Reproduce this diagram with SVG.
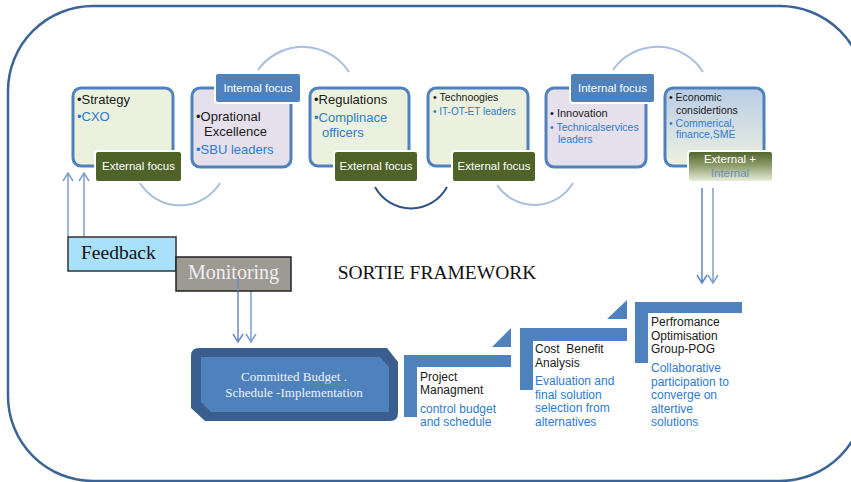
<svg xmlns="http://www.w3.org/2000/svg" width="851" height="482" viewBox="0 0 851 482">
  <defs>
    <linearGradient id="econFill" x1="0" y1="0" x2="0" y2="1">
      <stop offset="0" stop-color="#b9cce6"/>
      <stop offset="1" stop-color="#edf2e0"/>
    </linearGradient>
    <linearGradient id="mixFill" x1="0" y1="0" x2="0" y2="1">
      <stop offset="0" stop-color="#4f6228"/>
      <stop offset="0.45" stop-color="#8a9a68"/>
      <stop offset="1" stop-color="#eef3e2"/>
    </linearGradient>
    <style>
      .frame { fill: #ffffff; stroke: #3b6497; stroke-width: 2.5; }
      .box { stroke: #4f81bd; stroke-width: 3; }
      .green { fill: #ebf1de; }
      .lav { fill: #e5e0ec; }
      .ext { fill: #4f6228; stroke: #ffffff; stroke-width: 2; }
      .int { fill: #4f81bd; stroke: #ffffff; stroke-width: 2; }
      .lbl { font-family: "Liberation Sans", Arial, sans-serif; font-size: 11.5px; fill: #ffffff; text-anchor: middle; }
      .t { font-family: "Liberation Sans", Arial, sans-serif; fill: #1a1a1a; }
      .b { fill: #2e7bcf; }
      .serif { font-family: "Liberation Serif", "Times New Roman", serif; }
      .arc { fill: none; stroke: #a9bfdc; stroke-width: 2; }
      .arrow { fill: none; stroke: #7f9fd0; stroke-width: 1.5; }
      .step { fill: #4f81bd; }
    </style>
  </defs>

  <!-- outer rounded frame -->
  <rect class="frame" x="8" y="6" width="857" height="475" rx="85" ry="85"/>

  <!-- connectors -->
  <g id="connectors">
    <path class="arc" d="M140,183 A47,47 0 0 0 220,183"/>
    <path class="arc" d="M258,70 A55,55 0 0 1 349,72"/>
    <path class="arc" d="M375,187 A41,41 0 0 0 447,187" style="stroke:#2f5486"/>
    <path class="arc" d="M497,185 A45,45 0 0 0 573,183"/>
    <path class="arc" d="M613,70 A54,54 0 0 1 703,72"/>
    <!-- feedback arrows up to strategy -->
    <path class="arrow" d="M68,237 V173 M63,181 L68,173 L73,181"/>
    <path class="arrow" d="M84,237 V173 M79,181 L84,173 L89,181"/>
    <!-- monitoring arrows down to budget block -->
    <path class="arrow" d="M238,276 V342 M233,334 L238,342 L243,334" style="stroke:#6d8cc0"/>
    <path class="arrow" d="M251,291 V342 M246,334 L251,342 L256,334"/>
    <!-- economic arrows down to optimisation -->
    <path class="arrow" d="M702,188 V283 M697,275 L702,283 L707,275" style="stroke:#5f86c4"/>
    <path class="arrow" d="M713,188 V283 M708,275 L713,283 L718,275"/>
  </g>

  <!-- top row -->
  <g id="strategy">
    <rect class="box green" x="73" y="88" width="100" height="78" rx="8"/>
    <text class="t" x="77" y="104" font-size="13">•Strategy</text>
    <text class="t b" x="77" y="121" font-size="13">•CXO</text>
    <rect class="ext" x="95" y="151" width="87" height="31" rx="3"/>
    <text class="lbl" x="138.5" y="170">External focus</text>
  </g>

  <g id="operational">
    <rect class="box lav" x="192" y="88" width="99" height="79" rx="8"/>
    <text class="t" x="196" y="121" font-size="13">•Oprational</text>
    <text class="t" x="204" y="136" font-size="13">Excellence</text>
    <text class="t b" x="196" y="154" font-size="13">•SBU leaders</text>
    <rect class="int" x="215" y="73" width="86" height="30" rx="3"/>
    <text class="lbl" x="258" y="92">Internal focus</text>
  </g>

  <g id="regulations">
    <rect class="box green" x="310" y="88" width="99" height="78" rx="8"/>
    <text class="t" x="314" y="104" font-size="13">•Regulations</text>
    <text class="t b" x="314" y="122" font-size="13">•Complinace</text>
    <text class="t b" x="322" y="137" font-size="13">officers</text>
    <rect class="ext" x="334" y="151" width="84" height="31" rx="3"/>
    <text class="lbl" x="376" y="170">External focus</text>
  </g>

  <g id="technologies">
    <rect class="box green" x="428" y="88" width="100" height="78" rx="8"/>
    <text class="t" x="433" y="101" font-size="10.5">• Technoogies</text>
    <text class="t b" x="433" y="115" font-size="10">• IT-OT-ET leaders</text>
    <rect class="ext" x="452" y="151" width="84" height="31" rx="3"/>
    <text class="lbl" x="494" y="170">External focus</text>
  </g>

  <g id="innovation">
    <rect class="box lav" x="546" y="88" width="100" height="79" rx="8"/>
    <text class="t" x="550" y="117" font-size="11">• Innovation</text>
    <text class="t b" x="550" y="131" font-size="10.5">• Technicalservices</text>
    <text class="t b" x="558" y="143" font-size="10.5">leaders</text>
    <rect class="int" x="570" y="73" width="85" height="30" rx="3"/>
    <text class="lbl" x="612.5" y="92">Internal focus</text>
  </g>

  <g id="economic">
    <rect class="box" x="665" y="88" width="99" height="78" rx="8" fill="url(#econFill)"/>
    <text class="t" x="669" y="101" font-size="10.5">• Economic</text>
    <text class="t" x="676" y="114" font-size="10.5">considertions</text>
    <text class="t b" x="669" y="127" font-size="10.5">• Commerical,</text>
    <text class="t b" x="676" y="138" font-size="10.5">finance,SME</text>
    <rect x="688" y="151" width="85" height="31" rx="3" fill="url(#mixFill)" stroke="#ffffff" stroke-width="2"/>
    <text class="lbl" x="730" y="163">External +</text>
    <text class="lbl" x="730" y="177" style="fill:#6f8fbb">Internal</text>
  </g>

  <!-- feedback / monitoring -->
  <g id="feedback">
    <rect x="68" y="237" width="108" height="34" fill="#a9e1fb" stroke="#333333" stroke-width="1.5"/>
    <text class="serif" x="81" y="259" font-size="19.5" fill="#111111">Feedback</text>
  </g>
  <g id="monitoring">
    <rect x="176" y="257" width="115" height="34" fill="#9c9a93" stroke="#222222" stroke-width="1.5"/>
    <text class="serif" x="188" y="279" font-size="20" fill="#efefef">Monitoring</text>
  </g>
  <path d="M238,276 V291" stroke="#6d8cc0" stroke-width="1.5"/>

  <g id="title">
    <text class="serif" x="437" y="279" font-size="19.5" fill="#111111" text-anchor="middle">SORTIE FRAMEWORK</text>
  </g>

  <!-- committed budget block -->
  <g id="committed">
    <path d="M191,356 Q191,348 199,348 L387,348 L398,362 L398,413 Q398,421 390,421 L205,421 L191,408 Z" fill="#3a5f8e"/>
    <path d="M201,357 L380,357 L389,367 L389,412 L211,412 L201,402 Z" fill="#4f81bd"/>
    <text class="serif" x="294" y="381" font-size="13" fill="#eef2fa" text-anchor="middle">Committed Budget .</text>
    <path d="M309,384 q1.5,-1.5 3,0 t3,0 t3,0 t3,0 t3,0 t3,0 t3,0 t3,0 t3,0 t3,0 t3,0 t3,0" fill="none" stroke="#3cae3c" stroke-width="0.8"/>
    <text class="serif" x="294" y="397" font-size="13" fill="#eef2fa" text-anchor="middle">Schedule -Implementation</text>
  </g>

  <!-- step process -->
  <g id="project">
    <path class="step" d="M404,355 H511 V367 H417 V417 H404 Z"/>
    <path class="step" d="M492,347 L511,328 V347 Z"/>
    <text class="t" x="420" y="381" font-size="12">Project</text>
    <text class="t" x="420" y="394" font-size="12">Managment</text>
    <text class="t b" x="420" y="413" font-size="12">control budget</text>
    <text class="t b" x="420" y="426" font-size="12">and schedule</text>
  </g>

  <g id="costbenefit">
    <path class="step" d="M520,328 H627 V341 H533 V390 H520 Z"/>
    <path class="step" d="M607,319 L627,300 V319 Z"/>
    <text class="t" x="535" y="353" font-size="12" xml:space="preserve">Cost  Benefit</text>
    <text class="t" x="535" y="367" font-size="12">Analysis</text>
    <text class="t b" x="535" y="385" font-size="12">Evaluation and</text>
    <text class="t b" x="535" y="399" font-size="12">final solution</text>
    <text class="t b" x="535" y="412" font-size="12">selection from</text>
    <text class="t b" x="535" y="426" font-size="12">alternatives</text>
  </g>

  <g id="optimisation">
    <path class="step" d="M635,302 H742 V313 H648 V363 H635 Z"/>
    <text class="t" x="651" y="326" font-size="12">Perfromance</text>
    <text class="t" x="651" y="340" font-size="12">Optimisation</text>
    <text class="t" x="651" y="353" font-size="12">Group-POG</text>
    <text class="t b" x="651" y="372" font-size="12">Collaborative</text>
    <text class="t b" x="651" y="386" font-size="12">participation to</text>
    <text class="t b" x="651" y="399" font-size="12">converge on</text>
    <text class="t b" x="651" y="413" font-size="12">altertive</text>
    <text class="t b" x="651" y="426" font-size="12">solutions</text>
  </g>
</svg>
